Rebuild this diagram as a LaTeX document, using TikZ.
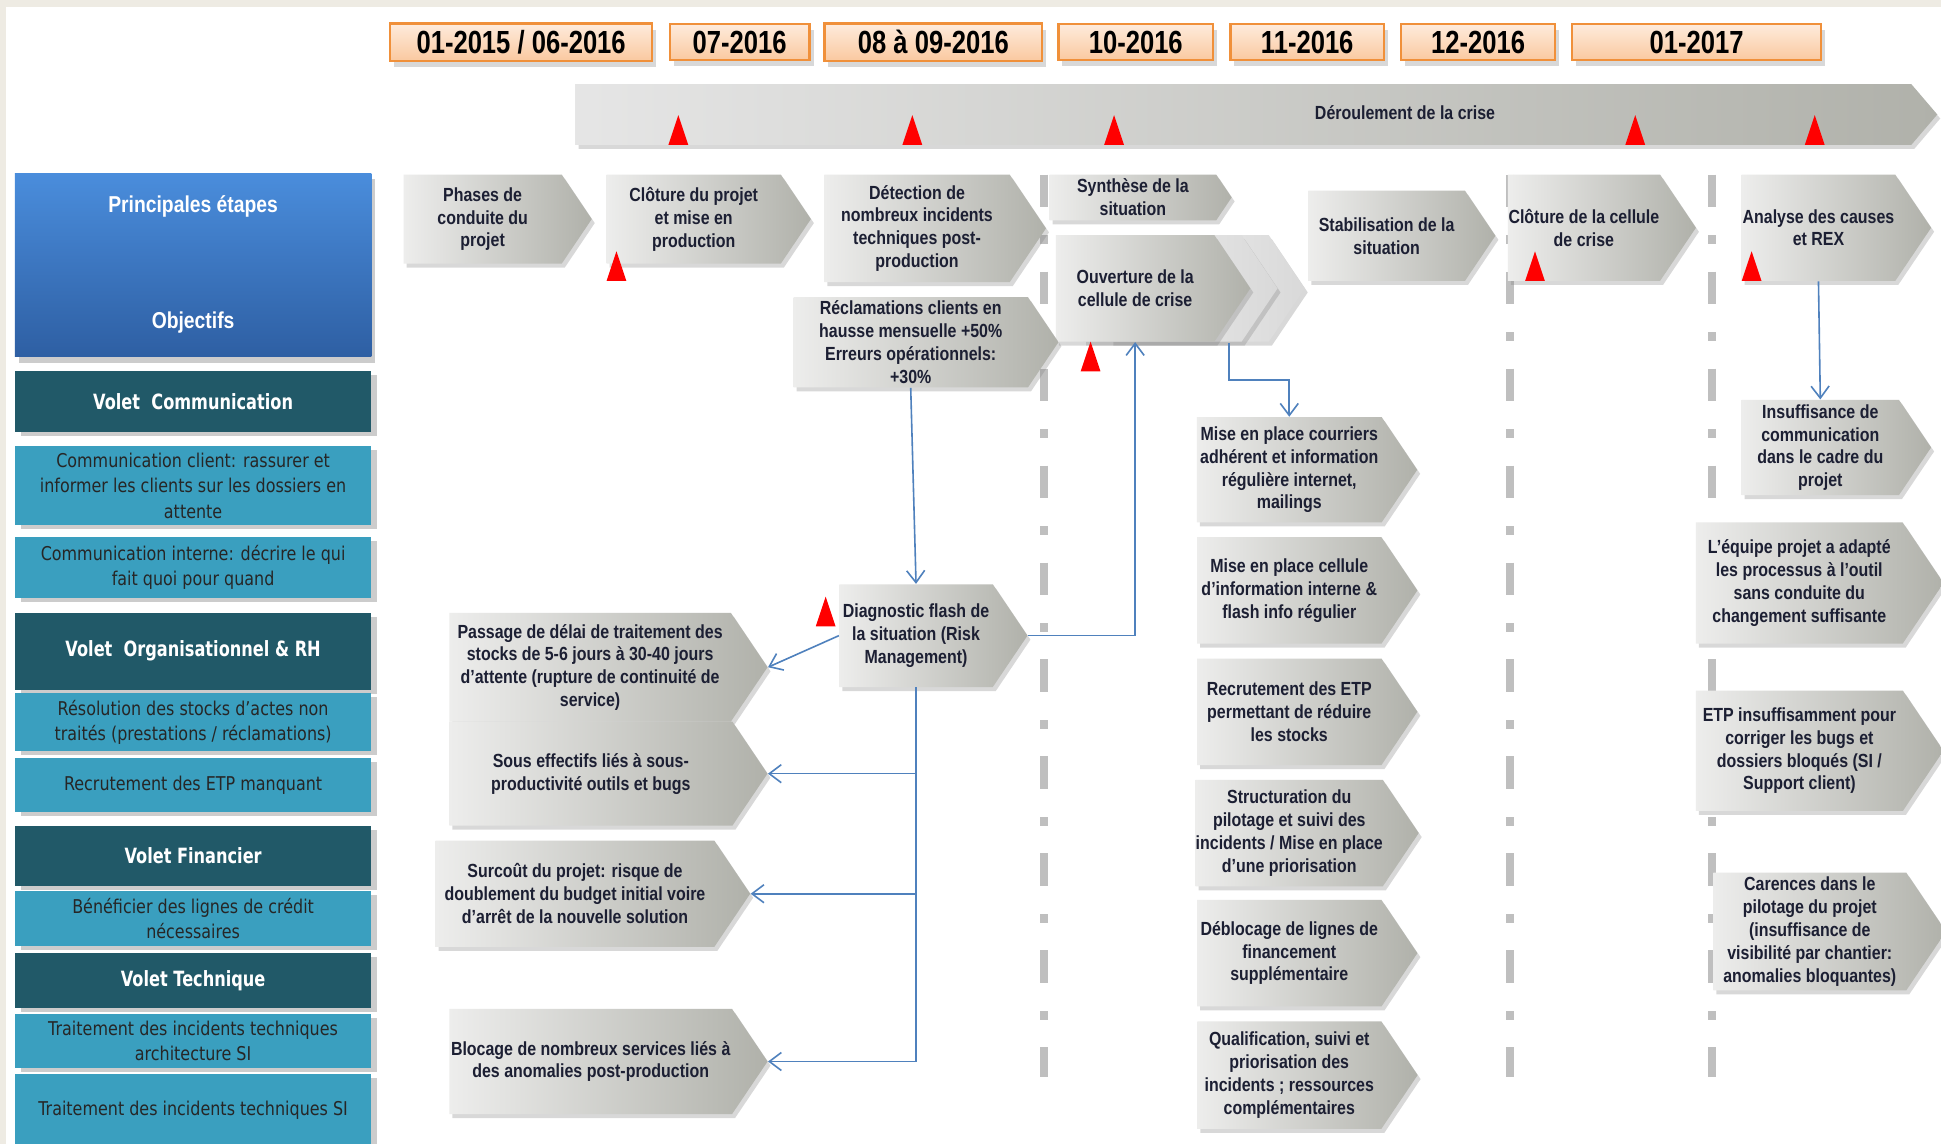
\documentclass[tikz,border=0pt]{standalone}
\usepackage{fontspec}
\setmainfont{Liberation Sans}
\newfontfamily\narrowsf[FakeStretch=0.8]{Liberation Sans}
\newfontfamily\chevsf[FakeStretch=0.84]{Liberation Sans}
\newfontfamily\widesf[FakeStretch=0.84]{DejaVu Sans}
\newfontfamily\widebf[FakeStretch=0.77]{DejaVu Sans}
\usetikzlibrary{shapes.symbols,shadows,arrows.meta,calc}

\definecolor{chevL}{HTML}{EDEDEC}
\definecolor{chevR}{HTML}{B0B1AA}
\definecolor{chevtxt}{HTML}{1C1F33}
\definecolor{darkteal}{HTML}{215968}
\definecolor{lightteal}{HTML}{3A9FBF}
\definecolor{lnkblue}{HTML}{4F81BD}
\definecolor{dashgrey}{HTML}{BFBFBF}
\definecolor{dateline}{HTML}{F0903A}
\definecolor{dateT}{HTML}{FEEBDC}
\definecolor{dateB}{HTML}{FAC9A0}
\definecolor{pageback}{HTML}{EEEBE3}
\definecolor{etapeT}{HTML}{4A8DDC}
\definecolor{etapeB}{HTML}{2E5FA3}

\tikzset{
  sz/.style 2 args={minimum width=#1*0.619pt, minimum height=#2*0.619pt},
  chev/.style={signal, signal to=east, signal from=nowhere, signal pointer angle=112,
    left color=chevL, right color=chevR, inner xsep=0pt, inner ysep=1pt, align=center,
    font=\chevsf\bfseries\fontsize{9.5}{11.4}\selectfont, text=chevtxt,
    drop shadow={shadow xshift=1.5pt, shadow yshift=-2pt, opacity=0.3}},
  ghost/.style={chev, left color=gray!10, right color=gray!30},
  datebox/.style={rectangle, draw=dateline, line width=1.1pt, top color=dateT, bottom color=dateB,
    font=\narrowsf\bfseries\fontsize{16}{18}\selectfont,
    drop shadow={shadow xshift=2pt, shadow yshift=-3pt, opacity=0.3}},
  volet/.style={rectangle, fill=darkteal, text=white, align=center, sz={288}{#1},
    font=\widebf\bfseries\fontsize{10.5}{13}\selectfont,
    drop shadow={shadow xshift=3pt, shadow yshift=-2pt, opacity=0.4}},
  objectif/.style={rectangle, fill=lightteal, text=black!85, align=center, sz={288}{#1},
    font=\widesf\fontsize{9.5}{12.8}\selectfont,
    drop shadow={shadow xshift=3pt, shadow yshift=-2pt, opacity=0.4}},
  lnk/.style={draw=lnkblue, line width=0.8pt, -{Straight Barb[length=6pt,width=9pt]}},
  jalon/.style={fill=red},
  cutline/.style={draw=dashgrey, line width=4pt,
    dash pattern=on 16.1pt off 14.2pt on 4.3pt off 13.9pt},
}

\begin{document}
\begin{tikzpicture}[x=0.619pt, y=-0.619pt]
\useasboundingbox (0,0) rectangle (1568,924);
\fill[pageback] (0,0) rectangle (1568,924);
\fill[white] (5,6) rectangle (1568,924);

% separateurs
\foreach \sx in {843,1220,1383}
  \draw[cutline] (\sx,141) -- (\sx,870);

% dates
\node[datebox, sz={212}{28}] (d1) at (421,34) {01-2015 / 06-2016};
\node[datebox, sz={113}{28}] (d2) at (597.5,34) {07-2016};
\node[datebox, sz={176}{28}] (d3) at (754,34) {08 à 09-2016};
\node[datebox, sz={125}{28}] (d4) at (917.5,34) {10-2016};
\node[datebox, sz={124}{28}] (d5) at (1056,34) {11-2016};
\node[datebox, sz={124}{28}] (d6) at (1194,34) {12-2016};
\node[datebox, sz={201}{28}] (d7) at (1370.5,34) {01-2017};

% bandeau de la crise
\node[chev, sz={1100}{49}, signal pointer angle=99, left color=gray!20, right color=chevR] (crise) at (1004.5,92.5) {};
\node[font=\chevsf\bfseries\fontsize{9.5}{11}\selectfont, text=chevtxt] (criselbl) at (1135,91) {Déroulement de la crise};
\foreach \tx in {548,737,900,1321,1466}
  \fill[jalon] (\tx-8,117) -- (\tx,93) -- (\tx+8,117) -- cycle;

% colonne de gauche
\node[rectangle, top color=etapeT, bottom color=etapeB, sz={288}{148}, text=white, align=center,
  font=\chevsf\bfseries\fontsize{11.5}{14}\selectfont,
  drop shadow={shadow xshift=2pt, shadow yshift=-3pt, opacity=0.4}] (etapes) at (156,214)
  {Principales étapes\\[44pt]Objectifs};
\node[volet=49] (vcom) at (156,324.5) {Volet\ \ Communication};
\node[objectif=63] (com1) at (156,392.5) {Communication client: rassurer et\\informer les clients sur les dossiers en\\attente};
\node[objectif=49] (com2) at (156,458.5) {Communication interne: décrire le qui\\fait quoi pour quand};
\node[volet=62] (vorg) at (156,526) {Volet\ \ Organisationnel \& RH};
\node[objectif=43] (org1) at (156,583.5) {Résolution des stocks d’actes non\\traités (prestations / réclamations)};
\node[objectif=44] (org2) at (156,634) {Recrutement des ETP manquant};
\node[volet=49] (vfin) at (156,691.5) {Volet Financier};
\node[objectif=44] (fin1) at (156,742) {Bénéficier des lignes de crédit\\nécessaires};
\node[volet=44] (vtec) at (156,792) {Volet Technique};
\node[objectif=44] (tec1) at (156,841) {Traitement des incidents techniques\\architecture SI};
\node[objectif=58] (tec2) at (156,897) {Traitement des incidents techniques SI};

% etapes
\node[chev, sz={152}{72}] (phases) at (389.9,177) {Phases de\\conduite du\\projet};
\node[chev, sz={165}{72}] (cloture) at (560.4,177) {Clôture du projet\\et mise en\\production};
\node[chev, sz={179}{87}] (detect) at (740.8,184.5) {Détection de\\nombreux incidents\\techniques post-\\production};
\node[chev, sz={147}{37}] (synth) at (915.2,159.5) {Synthèse de la\\situation};
\node[ghost, sz={157}{86}] (ouvg2) at (961,233) {};
\node[ghost, sz={157}{86}] (ouvg1) at (939,233) {};
\node[chev, sz={157}{86}] (ouvert) at (917,233) {Ouverture de la\\cellule de crise};
\node[chev, sz={151}{73}] (stabil) at (1120.2,190.5) {Stabilisation de la\\situation};
\node[chev, sz={152}{86}] (clotcel) at (1279.5,184) {Clôture de la cellule\\de crise};
\node[chev, sz={153}{86}] (analyse) at (1469,184) {Analyse des causes\\et REX};
\node[chev, sz={214}{73}] (recl) at (735.7,276.5) {Réclamations clients en\\hausse mensuelle +50\%\\Erreurs opérationnels:\\+30\%};
\node[chev, sz={152}{83}] (diag) at (740,513.5) {Diagnostic flash de\\la situation (Risk\\Management)};

% consequences
\node[chev, sz={257}{88}] (passage) at (476.7,539) {Passage de délai de traitement des\\stocks de 5-6 jours à 30-40 jours\\d’attente (rupture de continuité de\\service)};
\node[chev, sz={257}{84}] (sous) at (477.3,625) {Sous effectifs liés à sous-\\productivité outils et bugs};
\node[chev, sz={254}{86}] (surcout) at (464.5,722) {Surcoût du projet: risque de\\doublement du budget initial voire\\d’arrêt de la nouvelle solution};
\node[chev, sz={257}{85}] (blocage) at (477.2,857.5) {Blocage de nombreux services liés à\\des anomalies post-production};

% actions
\node[chev, sz={178}{85}] (m1) at (1041.5,379.5) {Mise en place courriers\\adhérent et information\\régulière internet,\\mailings};
\node[chev, sz={178}{86}] (m2) at (1041.5,477) {Mise en place cellule\\d’information interne \&\\flash info régulier};
\node[chev, sz={178}{86}] (m3) at (1041.5,575) {Recrutement des ETP\\permettant de réduire\\les stocks};
\node[chev, sz={178}{86}] (m4) at (1041.5,673) {Structuration du\\pilotage et suivi des\\incidents / Mise en place\\d’une priorisation};
\node[chev, sz={178}{86}] (m5) at (1041.5,770) {Déblocage de lignes de\\financement\\supplémentaire};
\node[chev, sz={178}{87}] (m6) at (1041.5,868.5) {Qualification, suivi et\\priorisation des\\incidents ; ressources\\complémentaires};

% causes
\node[chev, sz={153}{77}] (insuf) at (1470.5,361.5) {Insuffisance de\\communication\\dans le cadre du\\projet};
\node[chev, sz={200}{98}] (equipe) at (1453.5,471) {L’équipe projet a adapté\\les processus à l’outil\\sans conduite du\\changement suffisante};
\node[chev, sz={200}{97}] (etp) at (1453.6,606.5) {ETP insuffisamment pour\\corriger les bugs et\\dossiers bloqués (SI /\\Support client)};
\node[chev, sz={188}{95}] (carence) at (1462,752.5) {Carences dans le\\pilotage du projet\\(insuffisance de\\visibilité par chantier:\\anomalies bloquantes)};

% jalons
\foreach \tx/\ty in {498/227,881/300,1240/227,1415/227,667/506}
  \fill[jalon] (\tx-8,\ty) -- (\tx,\ty-24) -- (\tx+8,\ty) -- cycle;

% liens
\coordinate (ouvout) at (993,277);
\draw[lnk] (recl.south) -- (diag.north);
\draw[lnk] (diag.west) -- (passage.east);
\draw[lnk] (diag.south) |- (sous.east);
\draw[lnk] (diag.south) |- (surcout.east);
\draw[lnk] (diag.south) |- (blocage.east);
\draw[lnk] (diag.east) -| (ouvert.south);
\draw[lnk] (ouvout) -- ++(0,30) -| (m1.north);
\draw[lnk] (analyse.south) -- (insuf.north);
\end{tikzpicture}
\end{document}
